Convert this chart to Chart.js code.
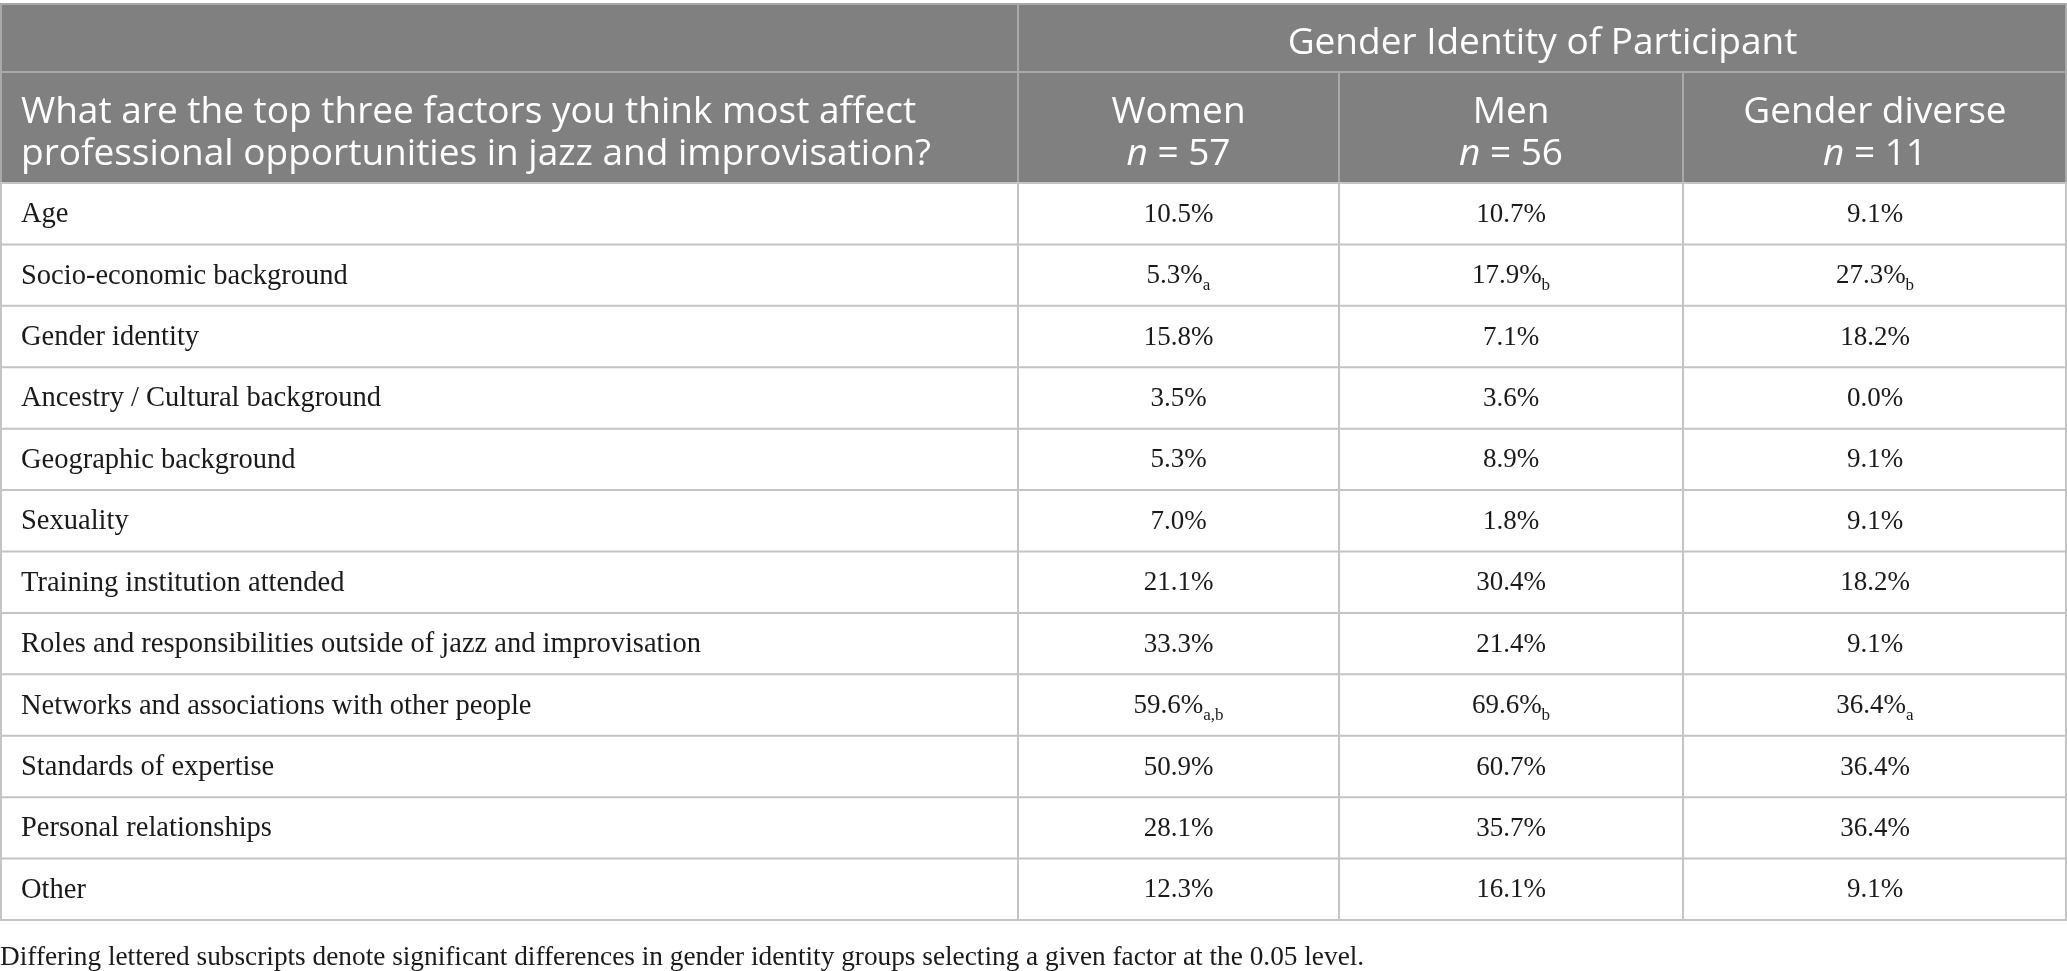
<!DOCTYPE html>
<html>
<head>
<meta charset="utf-8">
<script src="https://cdn.jsdelivr.net/npm/chart.js@4"></script>
<style>
html,body{margin:0;padding:0;background:#fff;}
canvas{display:block;}
</style>
</head>
<body>
<canvas id="tbl" width="2067" height="971"></canvas>
<script>
// table content
const factors = ['Age','Socio-economic background','Gender identity','Ancestry / Cultural background','Geographic background','Sexuality','Training institution attended','Roles and responsibilities outside of jazz and improvisation','Networks and associations with other people','Standards of expertise','Personal relationships','Other'];
const groups = ['Women','Men','Gender diverse'];
const groupN = [57,56,11];
const women = [10.5,5.3,15.8,3.5,5.3,7.0,21.1,33.3,59.6,50.9,28.1,12.3];
const men = [10.7,17.9,7.1,3.6,8.9,1.8,30.4,21.4,69.6,60.7,35.7,16.1];
const diverse = [9.1,27.3,18.2,0.0,9.1,9.1,18.2,9.1,36.4,36.4,36.4,9.1];
const womenSub = ['','a','','','','','','','a,b','','',''];
const menSub = ['','b','','','','','','','b','','',''];
const diverseSub = ['','b','','','','','','','a','','',''];
const question = ['What are the top three factors you think most affect','professional opportunities in jazz and improvisation?'];
const spanTitle = 'Gender Identity of Participant';
const footnote = 'Differing lettered subscripts denote significant differences in gender identity groups selecting a given factor at the 0.05 level.';

// layout
const W = 2067, H = 971;
const colEdges = [0,1018,1339,1683,2067];
const headTop = 4, headSplit = 72, bodyTop = 183, bodyBottom = 920;
const headBg = '#808080', headLine = '#a9a9a9', gridLine = '#c4c4c4';
const sans = '"Open Sans", "Noto Sans", sans-serif';
const serif = '"Liberation Serif", "DejaVu Serif", serif';
const headFont = 37, labelFont = 28.5, valueFont = 27, subFont = 17, noteFont = 27.3;

const series = [women, men, diverse];
const subs = [womenSub, menSub, diverseSub];
const mid = g => (colEdges[g+1] + colEdges[g+2]) / 2;

const tablePlugin = {
  id: 'tableDraw',
  beforeDraw(chart){
    const {ctx} = chart;
    const x = chart.scales.x, y = chart.scales.y;
    ctx.save();
    ctx.fillStyle = '#fff';
    ctx.fillRect(0,0,chart.width,chart.height);
    // header block
    const X = v => x.getPixelForValue(v);
    const top = chart.chartArea.top, bot = chart.chartArea.bottom;
    const hTop = top - (bodyTop - headTop), hSplit = top - (bodyTop - headSplit);
    ctx.fillStyle = headBg;
    ctx.fillRect(X(colEdges[0]), hTop, X(colEdges[4]) - X(colEdges[0]), top - hTop);
    ctx.lineWidth = 2;
    ctx.strokeStyle = headLine;
    ctx.beginPath();
    ctx.moveTo(X(colEdges[0]), hTop); ctx.lineTo(X(colEdges[4]), hTop);
    ctx.moveTo(X(colEdges[0]), hSplit); ctx.lineTo(X(colEdges[4]), hSplit);
    ctx.moveTo(X(colEdges[1]), hTop); ctx.lineTo(X(colEdges[1]), top);
    ctx.moveTo(X(colEdges[2]), hSplit); ctx.lineTo(X(colEdges[2]), top);
    ctx.moveTo(X(colEdges[3]), hSplit); ctx.lineTo(X(colEdges[3]), top);
    ctx.moveTo(X(colEdges[0])+1, hTop); ctx.lineTo(X(colEdges[0])+1, top);
    ctx.moveTo(X(colEdges[4])-1, hTop); ctx.lineTo(X(colEdges[4])-1, top);
    ctx.stroke();
    // body grid
    ctx.strokeStyle = gridLine;
    ctx.beginPath();
    const bounds = [top];
    for (let i = 0; i < factors.length - 1; i++) bounds.push((y.getPixelForValue(i) + y.getPixelForValue(i+1)) / 2);
    bounds.push(bot);
    bounds.forEach(b => { ctx.moveTo(X(colEdges[0]), b); ctx.lineTo(X(colEdges[4]), b); });
    colEdges.forEach((e, k) => {
      const px = k === 0 ? X(e) + 1 : k === colEdges.length - 1 ? X(e) - 1 : X(e);
      ctx.moveTo(px, top); ctx.lineTo(px, bot);
    });
    ctx.stroke();
    // header text
    const hf = headFont + 'px ' + sans, hfi = 'italic ' + hf;
    ctx.fillStyle = '#fff';
    ctx.textBaseline = 'middle';
    ctx.font = hf;
    ctx.textAlign = 'center';
    ctx.fillText(spanTitle, (X(colEdges[1]) + X(colEdges[4])) / 2, (hTop + hSplit) / 2 + 5);
    ctx.textAlign = 'left';
    ctx.fillText(question[0], X(colEdges[0]) + 21, hSplit + 40);
    ctx.fillText(question[1], X(colEdges[0]) + 21, hSplit + 82);
    groups.forEach((g, k) => {
      const cx = X(mid(k));
      ctx.textAlign = 'center';
      ctx.font = hf;
      ctx.fillText(g, cx, hSplit + 40);
      const rest = ' = ' + groupN[k];
      ctx.font = hfi;
      const wn = ctx.measureText('n').width;
      ctx.font = hf;
      const wr = ctx.measureText(rest).width;
      const sx = cx - (wn + wr) / 2;
      ctx.textAlign = 'left';
      ctx.font = hfi;
      ctx.fillText('n', sx, hSplit + 82);
      ctx.font = hf;
      ctx.fillText(rest, sx + wn, hSplit + 82);
    });
    ctx.restore();
  },
  afterDatasetsDraw(chart){
    const {ctx} = chart;
    const x = chart.scales.x;
    ctx.save();
    ctx.fillStyle = '#1a1a1a';
    ctx.textBaseline = 'middle';
    // factor labels
    ctx.font = labelFont + 'px ' + serif;
    ctx.textAlign = 'left';
    chart.getDatasetMeta(0).data.forEach((pt, i) => {
      ctx.fillText(factors[i], x.getPixelForValue(colEdges[0]) + 21, pt.y + 1);
    });
    // values with subscripts
    series.forEach((vals, k) => {
      chart.getDatasetMeta(k).data.forEach((pt, i) => {
        const txt = vals[i].toFixed(1) + '%';
        const sb = subs[k][i];
        ctx.font = valueFont + 'px ' + serif;
        const w1 = ctx.measureText(txt).width;
        ctx.font = subFont + 'px ' + serif;
        const w2 = sb ? ctx.measureText(sb).width : 0;
        const sx = pt.x - (w1 + w2) / 2;
        ctx.textAlign = 'left';
        ctx.font = valueFont + 'px ' + serif;
        ctx.fillText(txt, sx, pt.y + 1);
        if (sb) { ctx.font = subFont + 'px ' + serif; ctx.fillText(sb, sx + w1, pt.y + 10); }
      });
    });
    // footnote
    ctx.font = noteFont + 'px ' + serif;
    ctx.fillText(footnote, x.getPixelForValue(colEdges[0]), chart.chartArea.bottom + 38);
    ctx.restore();
  }
};

new Chart(document.getElementById('tbl'), {
  type: 'scatter',
  data: {
    datasets: series.map((vals, k) => ({
      label: groups[k],
      data: factors.map((f, i) => ({x: mid(k), y: f, v: vals[i]})),
      pointRadius: 0,
      pointHoverRadius: 0
    }))
  },
  options: {
    responsive: false,
    animation: false,
    events: [],
    layout: {padding: {top: bodyTop, bottom: H - bodyBottom, left: 0, right: 0}},
    plugins: {legend: {display: false}, tooltip: {enabled: false}},
    scales: {
      x: {type: 'linear', min: colEdges[0], max: colEdges[colEdges.length-1], display: false},
      y: {type: 'category', labels: factors, offset: true, display: false}
    }
  },
  plugins: [tablePlugin]
});
</script>
</body>
</html>
